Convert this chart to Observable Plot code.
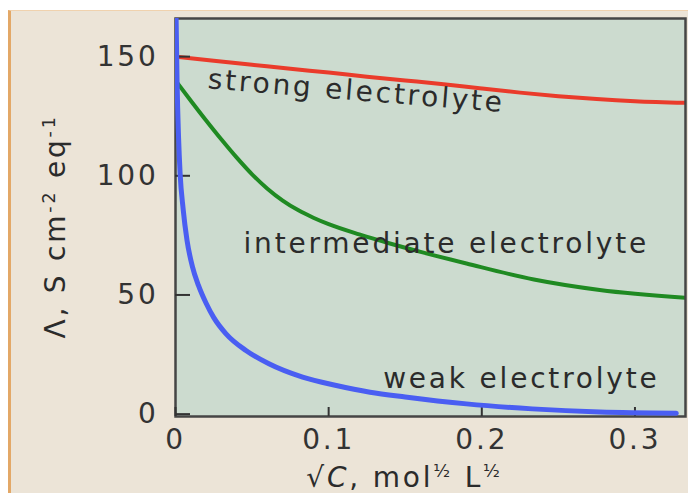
<!DOCTYPE html>
<html><head><meta charset="utf-8">
<script src="https://cdn.jsdelivr.net/npm/d3@7"></script>
<script src="https://cdn.jsdelivr.net/npm/@observablehq/plot@0.6"></script>
<style>
html,body{margin:0;padding:0;background:#fff;width:688px;height:493px;overflow:hidden;}
#bg{position:absolute;left:8px;top:10px;right:0;bottom:0;background:#ece4d7;border-left:3px solid #e3a867;border-top:1px solid #f0d2ae;}
#chart{position:absolute;left:0;top:0;}
#chart svg text{letter-spacing:2.8px;}
</style></head>
<body><div id="bg"></div><div id="chart"></div>
<script>
// Data
const strongX = [0, 0.025, 0.05, 0.075, 0.1, 0.125, 0.15, 0.175, 0.2, 0.225, 0.25, 0.275, 0.3, 0.333];
const strongY = [150, 148.3, 146.6, 144.9, 143.3, 141.6, 140, 138.4, 136.6, 134.9, 133.4, 132.2, 131.3, 130.6];
const interX = [0, 0.01, 0.02, 0.03, 0.04, 0.05, 0.06, 0.07, 0.08, 0.09, 0.1, 0.12, 0.14, 0.16, 0.19, 0.234, 0.277, 0.333];
const interY = [140, 131.5, 123.2, 115.2, 107.6, 100.6, 94.6, 89.6, 85.6, 82.4, 79.7, 75.4, 71.6, 68.1, 63.2, 56.5, 52.1, 48.8];
const weakX = [0.0003, 0.001, 0.002, 0.003, 0.005, 0.0075, 0.011, 0.015, 0.02, 0.025, 0.033, 0.046, 0.061, 0.083, 0.105, 0.127, 0.15, 0.19, 0.233, 0.277, 0.327];
const weakY = [170, 140, 116, 101, 86, 73, 62, 54, 46.5, 40.5, 33.7, 26.7, 21.1, 15.5, 12, 9.2, 7.2, 4.3, 2.2, 0.9, 0.4];

const xTicks = [0, 0.1, 0.2, 0.3];
const xTickLabels = ["0", "0.1", "0.2", "0.3"];
const yTicks = [0, 50, 100, 150];
const yTickLabels = ["0", "50", "100", "150"];

const annText = ["strong electrolyte", "intermediate electrolyte", "weak electrolyte"];
const annX = [0.1176, 0.1768, 0.2258];
const annY = [131.7, 67.4, 11.0];
const annRotate = [4.6, 0, 0];

const xLabel = "√C, mol½ L½";
const yLabel = "Λ, S cm-2 eq-1";

const toRows = (xs, ys) => xs.map((x, i) => ({x, y: ys[i]}));

const W = 688, H = 493, mL = 175, mR = 3, mT = 18, mB = 77;
const plotW = W - mL - mR, plotH = H - mT - mB;
const xFmt = new Map(xTicks.map((d, i) => [d, xTickLabels[i]]));
const yFmt = new Map(yTicks.map((d, i) => [d, yTickLabels[i]]));

const chart = Plot.plot({
  width: W, height: H,
  marginLeft: mL, marginRight: mR, marginTop: mT, marginBottom: mB,
  style: {background: "transparent", fontFamily: "'DejaVu Sans', sans-serif", fontSize: "28px", color: "#333"},
  x: {domain: [0, 0.333]},
  y: {domain: [-1, 166]},
  marks: [
    Plot.frame({fill: "#ccdbcf", stroke: null}),
    Plot.line(toRows(strongX, strongY), {x: "x", y: "y", stroke: "#ea3b2b", strokeWidth: 4, curve: "monotone-x", clip: true}),
    Plot.line(toRows(interX, interY), {x: "x", y: "y", stroke: "#1f8a22", strokeWidth: 4, curve: "monotone-x", clip: true}),
    Plot.frame({stroke: "#454545", strokeWidth: 2.5}),
    Plot.tickY(yTicks, {y: d => d, stroke: "#333", strokeWidth: 2, insetRight: plotW - 15}),
    Plot.tickX(xTicks, {x: d => d, stroke: "#333", strokeWidth: 2, insetTop: plotH - 9}),
    Plot.line(toRows(weakX, weakY), {x: "x", y: "y", stroke: "#4a5ef2", strokeWidth: 5, curve: "monotone-x", clip: true}),
    Plot.axisY(yTicks, {tickSize: 0, tickPadding: 17, tickFormat: d => yFmt.get(d), label: null, fill: "#333"}),
    Plot.axisX(xTicks, {tickSize: 0, tickPadding: 13, tickFormat: d => xFmt.get(d), label: null, fill: "#333"}),
    Plot.text([0, 1, 2], {x: i => annX[i], y: i => annY[i], text: i => annText[i], rotate: i => annRotate[i],
      textAnchor: "middle", lineAnchor: "bottom", fontSize: 28, fill: "#2b2b2b"}),
    Plot.text([yLabel], {frameAnchor: "left", rotate: -90, dx: -111, dy: 9, textAnchor: "middle", lineAnchor: "bottom",
      fontSize: 28, fill: "#2b2b2b"}),
    Plot.text([xLabel], {frameAnchor: "bottom", dx: -26, dy: 70, textAnchor: "middle", lineAnchor: "bottom",
      fontSize: 28, fill: "#2b2b2b"})
  ]
});
document.getElementById("chart").appendChild(chart);

// rich formatting of the axis labels (superscripts, italic)
const sup = (s, size) => `<tspan font-size="${size}" baseline-shift="super">${s}</tspan>`;
d3.select(chart).selectAll("text").each(function() {
  const t = this.textContent;
  if (t === yLabel) {
    d3.select(this).html(`Λ, S cm${sup("-2", "0.62em")} eq${sup("-1", "0.62em")}`);
  } else if (t === xLabel) {
    d3.select(this).html(`√<tspan font-style="italic">C</tspan>, mol${sup("½", "0.62em")} L${sup("½", "0.62em")}`);
  }
});
</script>
</body></html>
